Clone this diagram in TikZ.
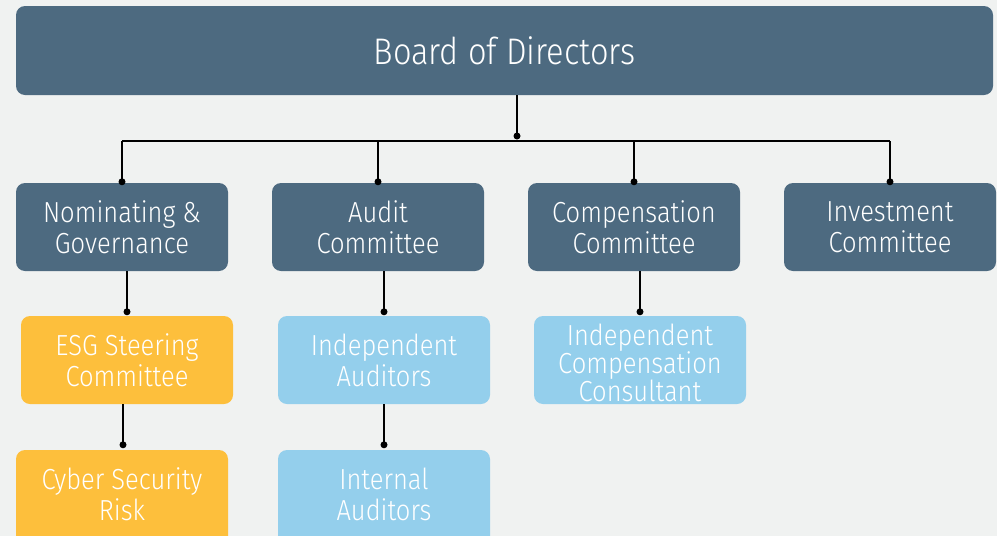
\documentclass[tikz,border=0pt]{standalone}
\usepackage{fontspec}
\setmainfont{Fira Sans}[FakeStretch=0.88, UprightFont={* Light}]
\definecolor{bgc}{HTML}{F0F2F1}
\definecolor{slate}{HTML}{4D6A80}
\definecolor{gold}{HTML}{FDBF3C}
\definecolor{sky}{HTML}{94CFEC}
\begin{document}
\begin{tikzpicture}[x=1pt,y=-1pt,
  box/.style={rounded corners=9pt, draw=none, text=white, align=center,
    minimum width=212pt, minimum height=88pt, inner sep=0pt,
    font=\fontsize{29}{31}\selectfont},
  label text/.style={text=white, align=center, inner sep=0pt},
  link/.style={line width=1.8pt, black},
  dot/.style={circle, fill=black, inner sep=0pt, minimum size=7pt}]
\fill[bgc] (0,0) rectangle (997,536);
\useasboundingbox (0,0) rectangle (997,536);
% nodes
\node[box, fill=slate, minimum width=977pt, minimum height=89pt,
  font=\fontsize{37}{40}\selectfont] (board) at (504.5,50.5) {Board of Directors};
\node[box, fill=slate] (nom) at (122,227) {Nominating \&\\Governance};
\node[box, fill=slate] (aud) at (378,227) {Audit\\Committee};
\node[box, fill=slate] (comp) at (634,227) {Compensation\\Committee};
\node[box, fill=slate] (inv) at (890,227) {Investment\\Committee};
\node[box, fill=gold] (esg) at (127,360) {ESG Steering\\Committee};
\node[box, fill=sky] (ind) at (384,360) {Independent\\Auditors};
\node[box, fill=sky] (icc) at (640,360) {};
\node[label text, font=\fontsize{29}{28}\selectfont] (icct) at (640,363) {Independent\\Compensation\\Consultant};
\node[box, fill=gold, minimum height=104pt] (cyber) at (122,502) {};
\node[label text, font=\fontsize{29}{31}\selectfont] (cybert) at (122,494) {Cyber Security\\Risk};
\node[box, fill=sky, minimum height=104pt] (int) at (384,502) {};
\node[label text, font=\fontsize{29}{31}\selectfont] (intt) at (384,494) {Internal\\Auditors};
% connectors
\coordinate (hub) at (517,136);
\coordinate (busy) at (0,141);
\draw[link] (board.south -| hub) -- (hub);
\node[dot] at (hub) {};
\draw[link] (nom.north |- busy) -- (inv.north |- busy);
\foreach \n in {nom,aud,comp,inv}{
  \draw[link] (\n.north |- busy) -- ([yshift=1pt]\n.north);
  \node[dot] at ([yshift=1pt]\n.north) {};
}
\foreach \a/\b in {nom/esg,aud/ind,comp/icc}{
  \draw[link] (\b.north |- \a.south) -- ([yshift=4pt]\b.north);
  \node[dot] at ([yshift=4pt]\b.north) {};
}
\draw[link] ([xshift=1pt]cyber.north |- esg.south) -- ([xshift=1pt,yshift=5pt]cyber.north);
\node[dot] at ([xshift=1pt,yshift=5pt]cyber.north) {};
\draw[link] (int.north |- ind.south) -- ([yshift=5pt]int.north);
\node[dot] at ([yshift=5pt]int.north) {};
\end{tikzpicture}
\end{document}
